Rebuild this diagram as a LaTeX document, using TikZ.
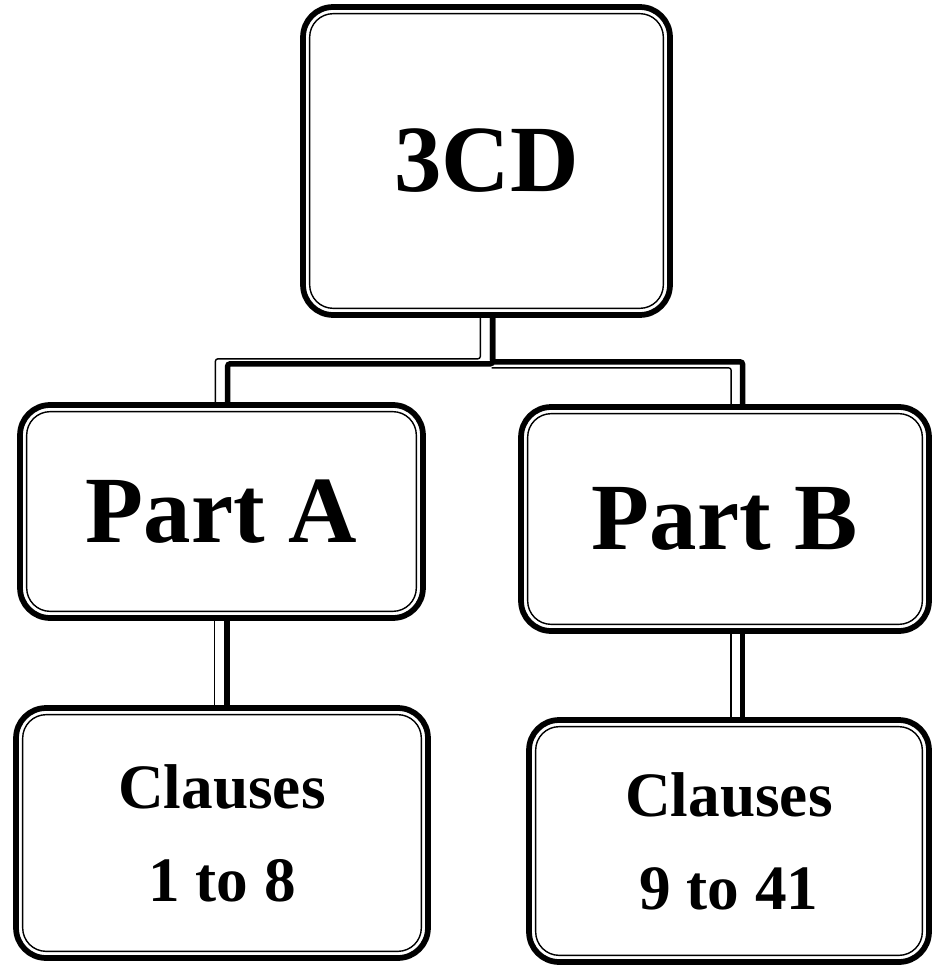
\documentclass[tikz,border=0pt]{standalone}
\usepackage{fontspec}
\setmainfont{Liberation Serif}
\usepackage{tikz}

\tikzset{
  box/.style={draw, line width=0.115cm, rounded corners=0.6cm, align=center, font=\bfseries},
  innerline/.style={line width=0.8pt, rounded corners=0.47cm},
  bar/.style={line width=0.11cm, rounded corners=0.05cm},
  hair/.style={line width=0.8pt, rounded corners=0.05cm}
}

\begin{document}
\begin{tikzpicture}[x=0.02cm, y=-0.02cm]
\useasboundingbox (0,0) rectangle (932,973);
% boxes
\node[box, minimum width=7.34cm, minimum height=6.16cm, font=\bfseries\fontsize{54}{60}\selectfont] (cd) at (486.5,161) {3CD};
\node[box, minimum width=8.06cm, minimum height=4.26cm, font=\bfseries\fontsize{54}{60}\selectfont] (pa) at (221.5,511.5) {Part A};
\node[box, minimum width=8.16cm, minimum height=4.48cm, font=\bfseries\fontsize{54}{60}\selectfont] (pb) at (725,519) {Part B};
\node[box, minimum width=8.24cm, minimum height=5.0cm, font=\bfseries\fontsize{36}{53}\selectfont] (ca) at (222,833) {Clauses\\1 to 8};
\node[box, minimum width=8.0cm, minimum height=4.84cm, font=\bfseries\fontsize{36}{53}\selectfont] (cb) at (729,841) {Clauses\\9 to 41};
\foreach \n in {cd,pa,pb,ca,cb}
    {\draw[innerline] ([shift={(9.5,-9.5)}]\n.south west) rectangle ([shift={(-9.5,9.5)}]\n.north east);}
% connectors
\draw[bar] ([xshift=3.5]cd.south) -- ++(0,46) -| ([xshift=3.5]pa.north);
\draw[hair] ([xshift=-3.5]cd.south) -- ++(0,41) -| ([xshift=-3.5]pa.north);
\draw[bar] ([xshift=3.5]cd.south) -- ++(0,44) -| ([xshift=10]pb.north);
\draw[hair] ([shift={(5,50)}]cd.south) -| ([xshift=3.5]pb.north);
\draw[bar] ([xshift=3]pa.south) -- ([xshift=3]pa.south |- ca.north);
\draw[hair] ([xshift=-4]pa.south) -- ([xshift=-4]pa.south |- ca.north);
\draw[bar] ([xshift=10]pb.south) -- ([xshift=10]pb.south |- cb.north);
\draw[hair] ([xshift=3.5]pb.south) -- ([xshift=3.5]pb.south |- cb.north);
\end{tikzpicture}
\end{document}
